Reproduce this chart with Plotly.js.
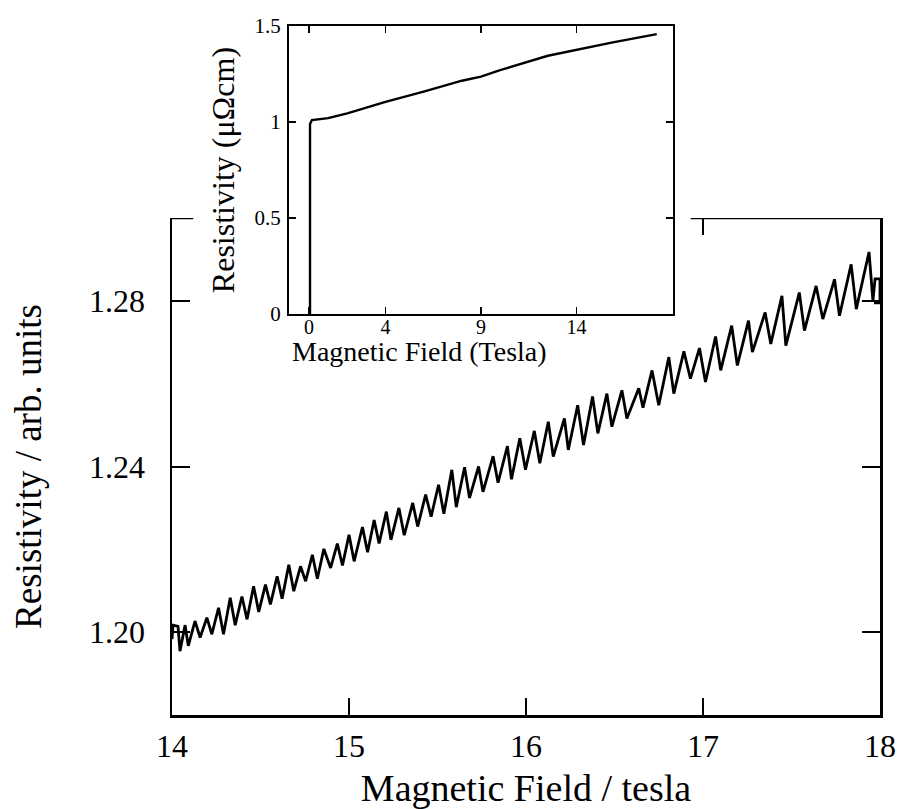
<!DOCTYPE html>
<html><head><meta charset="utf-8">
<script src="https://cdn.plot.ly/plotly-3.0.1.min.js"></script>
<style>html,body{margin:0;padding:0;background:#fff}#chart{width:898px;height:809px}</style>
</head><body><div id="chart"></div>
<script>
// Main panel: resistivity vs magnetic field (14-18 T)
const fieldT = [14.000,14.006,14.034,14.045,14.074,14.092,14.130,14.159,14.197,14.225,14.263,14.291,14.329,14.357,14.395,14.424,14.461,14.490,14.528,14.556,14.594,14.622,14.660,14.688,14.726,14.755,14.793,14.821,14.858,14.896,14.934,14.963,15.000,15.029,15.076,15.105,15.142,15.170,15.211,15.237,15.282,15.312,15.360,15.388,15.433,15.464,15.506,15.536,15.581,15.606,15.653,15.681,15.732,15.757,15.814,15.842,15.895,15.918,15.965,15.997,16.047,16.078,16.126,16.154,16.217,16.239,16.292,16.325,16.376,16.406,16.457,16.485,16.542,16.570,16.637,16.661,16.712,16.750,16.807,16.835,16.892,16.929,16.980,17.014,17.071,17.100,17.162,17.194,17.257,17.279,17.351,17.383,17.446,17.468,17.544,17.573,17.639,17.677,17.743,17.771,17.837,17.866,17.938,17.960,17.972,18.000,18.000,17.966];
const resistivity = [1.1983,1.2017,1.2014,1.1954,1.2017,1.1967,1.2027,1.1987,1.2035,1.1995,1.2059,1.1995,1.2083,1.2017,1.2086,1.2031,1.2111,1.2049,1.2115,1.2067,1.2135,1.2081,1.2163,1.2099,1.2159,1.2123,1.2187,1.2129,1.2201,1.2155,1.2214,1.2161,1.2235,1.2171,1.2254,1.2193,1.2271,1.2214,1.2291,1.2223,1.2300,1.2234,1.2312,1.2255,1.2332,1.2279,1.2356,1.2286,1.2392,1.2302,1.2398,1.2324,1.2400,1.2339,1.2425,1.2361,1.2449,1.2369,1.2468,1.2392,1.2486,1.2408,1.2508,1.2424,1.2516,1.2440,1.2548,1.2452,1.2569,1.2480,1.2576,1.2496,1.2584,1.2516,1.2589,1.2542,1.2632,1.2548,1.2664,1.2576,1.2678,1.2612,1.2686,1.2604,1.2714,1.2632,1.2740,1.2644,1.2752,1.2676,1.2772,1.2696,1.2812,1.2692,1.2820,1.2728,1.2836,1.2756,1.2852,1.2764,1.2888,1.2780,1.2918,1.2800,1.2853,1.2853,1.2795,1.2795];

// Inset: resistivity (μΩcm) vs field (Tesla)
const insetField = [0.05,0.05,0.15,1.0,2.0,4.0,6.0,8.0,9.0,10.0,12.5,15.9,18.2];
const insetResistivity = [0,0.99,1.01,1.02,1.045,1.105,1.158,1.215,1.236,1.27,1.345,1.415,1.458];

const mainXTicks = [14,15,16,17,18];
const mainXTickText = ['14','15','16','17','18'];
const mainYTicks = [1.20,1.24,1.28];
const mainYTickText = ['1.20','1.24','1.28'];
const insetXTicks = [0,4,9,14];
const insetXTickText = ['0','4','9','14'];
const insetYTicks = [0,0.5,1,1.5];
const insetYTickText = ['0','0.5','1','1.5'];

const serif = 'Liberation Serif, Times New Roman, serif';

const traces = [
  {x: fieldT, y: resistivity, type: 'scatter', mode: 'lines',
   line: {color: '#000', width: 2.8}, xaxis: 'x', yaxis: 'y', hoverinfo: 'skip'},
  {x: insetField, y: insetResistivity, type: 'scatter', mode: 'lines',
   line: {color: '#000', width: 2.4}, xaxis: 'x2', yaxis: 'y2', hoverinfo: 'skip'}
];

const axBase = {showgrid: false, zeroline: false, showline: true, linecolor: '#000',
  ticks: 'inside', tickcolor: '#000', automargin: false, fixedrange: true};

const layout = {
  width: 898, height: 809,
  margin: {l: 0, r: 0, t: 0, b: 0},
  paper_bgcolor: '#fff', plot_bgcolor: '#fff',
  showlegend: false,
  font: {family: serif, color: '#000'},
  xaxis: Object.assign({}, axBase, {
    domain: [0.19154, 0.97996], range: [14, 18],
    linewidth: 2.5, tickwidth: 2, ticklen: 17, mirror: false,
    tickvals: mainXTicks, ticktext: mainXTickText,
    tickfont: {family: serif, size: 32, color: '#000'}, ticklabelstandoff: 1,
    title: {text: 'Magnetic Field / tesla', font: {family: serif, size: 38, color: '#000'}, standoff: 24}
  }),
  yaxis: Object.assign({}, axBase, {
    domain: [0.11619, 0.73053], range: [1.18, 1.30],
    linewidth: 2.5, tickwidth: 2, ticklen: 18, mirror: 'ticks',
    tickvals: mainYTicks, ticktext: mainYTickText,
    tickfont: {family: serif, size: 32, color: '#000'}, ticklabelstandoff: 18,
    title: {text: 'Resistivity / arb. units', font: {family: serif, size: 37, color: '#000'}, standoff: 36}
  }),
  xaxis2: Object.assign({}, axBase, {
    domain: [0.32183, 0.74944], range: [-1.05, 19.05], anchor: 'y2',
    linewidth: 2, tickwidth: 1.5, ticklen: 7, mirror: 'ticks',
    tickvals: insetXTicks, ticktext: insetXTickText,
    tickfont: {family: serif, size: 20, color: '#000'}, ticklabelstandoff: -6
  }),
  yaxis2: Object.assign({}, axBase, {
    domain: [0.61187, 0.96786], range: [0, 1.5], anchor: 'x2',
    linewidth: 2, tickwidth: 1.5, ticklen: 7, mirror: 'ticks',
    tickvals: insetYTicks, ticktext: insetYTickText,
    tickfont: {family: serif, size: 21, color: '#000'}, ticklabelstandoff: 2,
    title: {text: 'Resistivity (μΩcm)', font: {family: serif, size: 32, color: '#000'}, standoff: 10}
  }),
  annotations: [
    {text: 'Magnetic Field (Tesla)', xref: 'x2', yref: 'paper', x: 5.8, y: 0.5661,
     xanchor: 'center', yanchor: 'middle', showarrow: false,
     font: {family: serif, size: 28, color: '#000'}}
  ],
  shapes: [
    {type: 'line', xref: 'x', yref: 'y', x0: 14, x1: 14.12, y0: 1.30, y1: 1.30, layer: 'above', line: {color: '#000', width: 2.5}},
    {type: 'line', xref: 'x', yref: 'y', x0: 16.93, x1: 18, y0: 1.30, y1: 1.30, layer: 'above', line: {color: '#000', width: 2.5}},
    {type: 'line', xref: 'x', yref: 'y', x0: 17, x1: 17, y0: 1.30, y1: 1.2959, layer: 'above', line: {color: '#000', width: 2}}
  ]
};

Plotly.newPlot('chart', traces, layout, {displayModeBar: false, staticPlot: true});
</script>
</body></html>
